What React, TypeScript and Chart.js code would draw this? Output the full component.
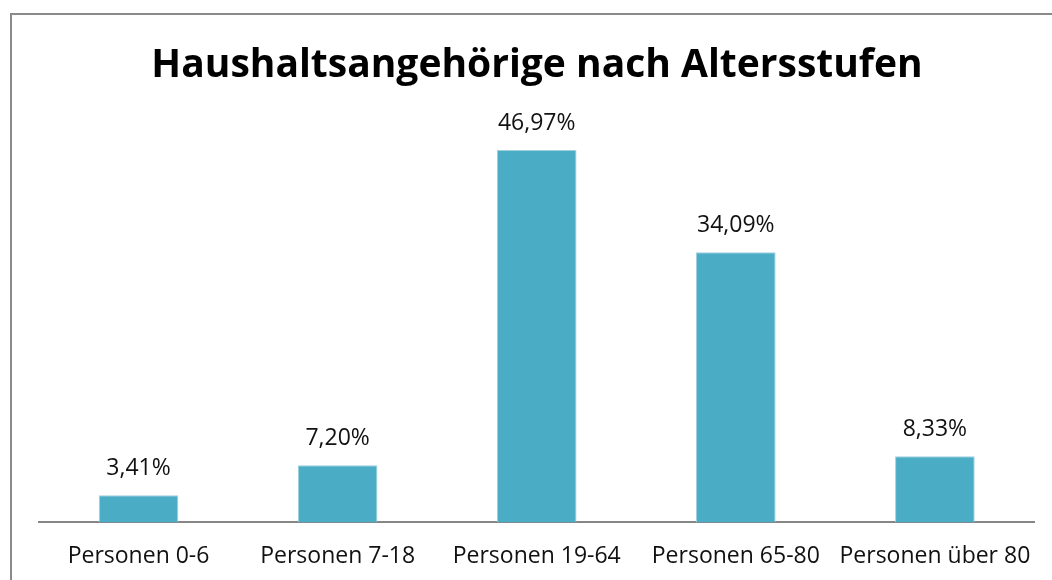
import React, { useEffect, useRef } from "react";
import { Chart, registerables } from "chart.js";
Chart.register(...registerables);

const categories = ["Personen 0-6", "Personen 7-18", "Personen 19-64", "Personen 65-80", "Personen über 80"];
const values = [3.41, 7.2, 46.97, 34.09, 8.33];
const valueLabels = ["3,41%", "7,20%", "46,97%", "34,09%", "8,33%"];
const titleText = "Haushaltsangehörige nach Altersstufen";
const yMin = 0;
const yMax = 50;

const FONT = "'Open Sans', Lato, sans-serif";

export default function App() {
  const ref = useRef<HTMLCanvasElement | null>(null);
  useEffect(() => {
    if (!ref.current) return;
    const labelPlugin = {
      id: "valueLabels",
      afterDatasetsDraw(chart: any) {
        const ctx = chart.ctx;
        const meta = chart.getDatasetMeta(0);
        ctx.save();
        ctx.fillStyle = "#111";
        ctx.font = `23px ${FONT}`;
        ctx.textAlign = "center";
        ctx.textBaseline = "alphabetic";
        meta.data.forEach((el: any, i: number) => {
          ctx.fillText(valueLabels[i], el.x, el.y - 20);
        });
        ctx.restore();
      },
    };
    const titlePlugin = {
      id: "customTitle",
      afterDraw(chart: any) {
        const ctx = chart.ctx;
        ctx.save();
        ctx.fillStyle = "#000";
        ctx.font = `bold 39px ${FONT}`;
        ctx.textAlign = "center";
        ctx.textBaseline = "middle";
        ctx.fillText(titleText, 537, 66);
        ctx.restore();
      },
    };
    const chart = new Chart(ref.current, {
      type: "bar",
      data: {
        labels: categories,
        datasets: [
          {
            data: values,
            backgroundColor: "#4BACC6",
            borderColor: "#9fd0dd",
            borderWidth: 1,
            barPercentage: 0.4,
            categoryPercentage: 1,
          },
        ],
      },
      options: {
        responsive: false,
        animation: false,
        layout: { padding: { top: 126, left: 39, right: 17, bottom: 10 } },
        plugins: {
          legend: { display: false },
          title: { display: false },
          tooltip: { enabled: false },
        },
        scales: {
          x: {
            grid: { display: false, drawTicks: false },
            border: { display: true, color: "#868686", width: 2 },
            ticks: { color: "#111", font: { family: FONT, size: 23 }, padding: 20, maxRotation: 0, autoSkip: false },
          },
          y: {
            display: false,
            min: yMin,
            max: yMax,
          },
        },
      },
      plugins: [labelPlugin, titlePlugin],
    });
    return () => chart.destroy();
  }, []);
  return (
    <div style={{ position: "fixed", left: 0, top: 0, width: 1052, height: 580, background: "#fff", overflow: "hidden" }}>
      <canvas ref={ref} width={1052} height={600} style={{ position: "absolute", left: 0, top: 0 }} />
      <div
        style={{
          position: "absolute",
          left: 10,
          top: 13,
          width: 1100,
          height: 700,
          border: "2px solid #8a8a8a",
          boxSizing: "border-box",
          pointerEvents: "none",
        }}
      />
    </div>
  );
}
